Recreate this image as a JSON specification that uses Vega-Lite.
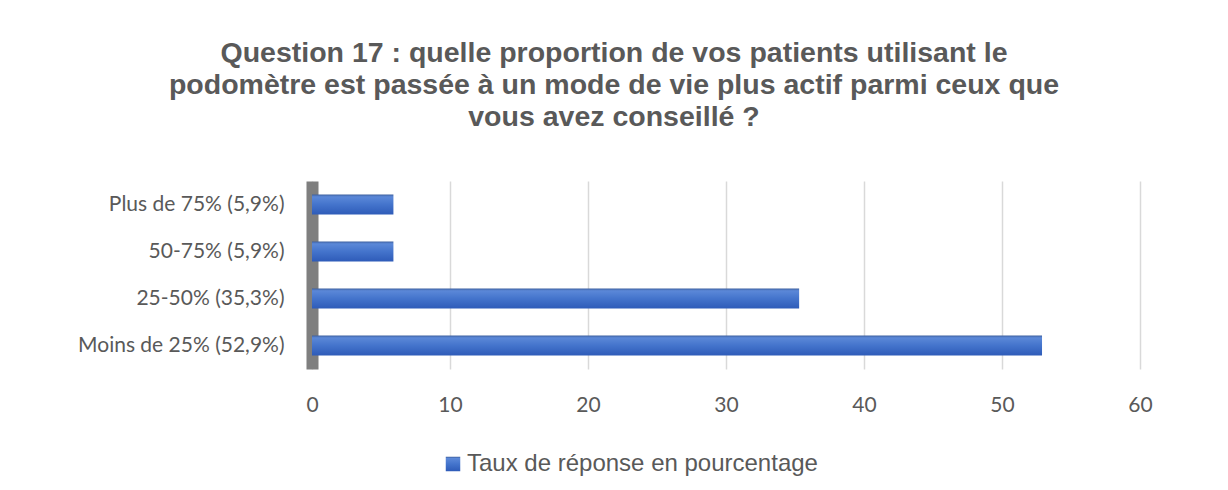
{
  "$schema": "https://vega.github.io/schema/vega-lite/v6.json",
  "width": 828,
  "height": 188,
  "autosize": {"type": "none"},
  "padding": {"left": 312, "top": 181, "right": 88, "bottom": 121},
  "background": "white",
  "config": {"view": {"stroke": null}},
  "title": {
    "text": ["Question 17 : quelle proportion de vos patients utilisant le", "podomètre est passée à un mode de vie plus actif parmi ceux que", "vous avez conseillé ?"],
    "anchor": "middle",
    "frame": "group",
    "dx": -112,
    "font": "Liberation Sans",
    "fontSize": 28.5,
    "fontWeight": "bold",
    "color": "#595959",
    "lineHeight": 32,
    "offset": 50
  },
  "data": {
    "values": [
      {"categorie": "Plus de 75% (5,9%)", "valeur": 5.9, "serie": "Taux de réponse en pourcentage"},
      {"categorie": "50-75% (5,9%)", "valeur": 5.9, "serie": "Taux de réponse en pourcentage"},
      {"categorie": "25-50% (35,3%)", "valeur": 35.3, "serie": "Taux de réponse en pourcentage"},
      {"categorie": "Moins de 25% (52,9%)", "valeur": 52.9, "serie": "Taux de réponse en pourcentage"}
    ]
  },
  "mark": {
    "type": "bar",
    "fill": {
      "gradient": "linear", "x1": 0, "y1": 0, "x2": 0, "y2": 1,
      "stops": [
        {"offset": 0, "color": "#3d5f9e"},
        {"offset": 0.12, "color": "#5b88d8"},
        {"offset": 0.5, "color": "#4474cc"},
        {"offset": 1, "color": "#2e5bb8"}
      ]
    }
  },
  "encoding": {
    "y": {
      "field": "categorie", "type": "nominal", "sort": null,
      "scale": {"paddingInner": 0.57, "paddingOuter": 0.285},
      "axis": {
        "title": null, "ticks": false, "grid": false,
        "domain": true, "domainColor": "#7f7f7f", "domainWidth": 12,
        "labelFont": "Lato", "labelFontSize": 21, "labelColor": "#595959", "labelPadding": 28, "labelLimit": 400
      }
    },
    "x": {
      "field": "valeur", "type": "quantitative",
      "scale": {"domain": [0, 60]},
      "axis": {
        "title": null, "values": [0, 10, 20, 30, 40, 50, 60],
        "grid": true, "gridColor": "#d9d9d9", "gridWidth": 1.5,
        "domain": false, "ticks": false, "labelFlush": false,
        "labelFont": "Lato", "labelFontSize": 21, "labelColor": "#595959", "labelPadding": 25
      }
    },
    "opacity": {
      "field": "serie", "type": "nominal",
      "scale": {"range": [1]},
      "legend": {
        "title": null, "orient": "none", "legendX": 129, "legendY": 271,
        "symbolType": "square", "symbolSize": 210, "labelOffset": 2,
        "symbolFillColor": "#4472c4", "symbolStrokeColor": "#4472c4", "symbolStrokeWidth": 0,
        "labelFont": "Liberation Sans", "labelFontSize": 24, "labelColor": "#595959", "labelLimit": 600
      }
    }
  }
}
